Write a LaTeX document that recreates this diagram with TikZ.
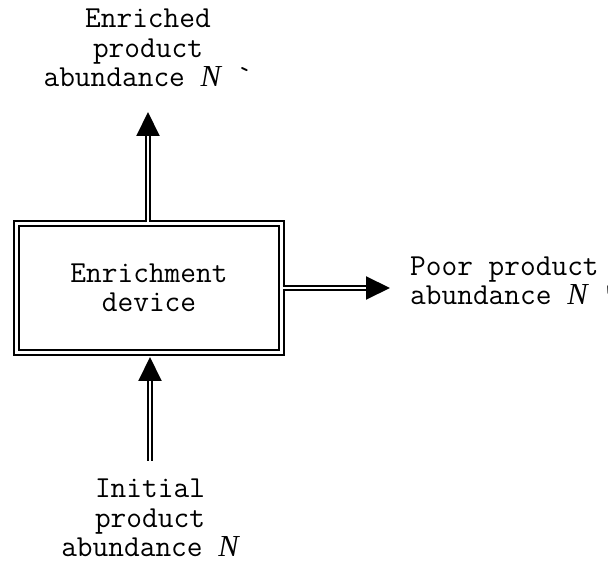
\documentclass[tikz,border=0pt]{standalone}
\usepackage{fontspec}
\newfontfamily\serifit{Liberation Serif}
\usetikzlibrary{arrows.meta}
\tikzset{
  lbl/.style={font=\ttfamily\fontsize{30.5}{29.5}\selectfont, inner sep=0pt},
  devbox/.style={lbl, draw, double, line width=2pt, double distance=3pt,
    minimum width=265pt, minimum height=129pt, align=center},
  flow/.style={draw, double, line width=2pt, double distance=2.5pt,
    -{Triangle[length=24pt,width=23pt]}}
}
\newcommand{\Nsym}{{\serifit\itshape N}}
\begin{document}
\begin{tikzpicture}[x=1pt,y=1pt]
  \useasboundingbox (0,0) rectangle (608,560);

  % the device
  \node[devbox] (dev) at (149,272) {Enrichment\\device};

  % the three flows
  \node[lbl, align=center, anchor=south] (enr) at (148,473)
    {Enriched\\product\\abundance \Nsym{} \symbol{96}};
  \node[lbl, align=left, anchor=west] (poor) at (410,279)
    {Poor product\\abundance \Nsym{} \symbol{34}};
  \node[lbl, align=center, anchor=north] (init) at (150,81)
    {Initial\\product\\abundance \Nsym};

  % arrows
  \draw[flow, shorten >=25pt] (dev.north -| enr.south) -- (enr.south);
  \draw[flow, shorten >=20pt] (dev.east) -- (dev.east -| poor.west);
  \draw[flow, shorten <=18pt, shorten >=3.5pt] (init.north) -- (init.north |- dev.south);
\end{tikzpicture}
\end{document}
